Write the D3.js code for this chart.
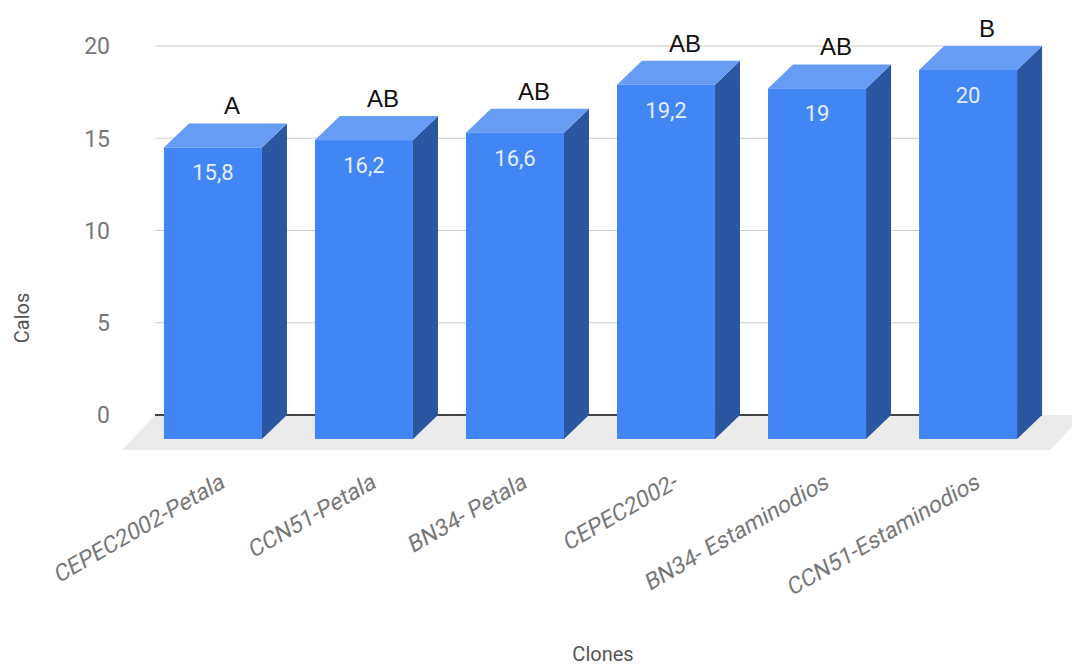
<!DOCTYPE html>
<html>
<head>
<meta charset="utf-8">
<script src="https://cdn.jsdelivr.net/npm/d3@7"></script>
<style>
  html, body { margin: 0; padding: 0; background: #fff; }
  svg { display: block; }
</style>
</head>
<body>
<svg id="chart" width="1072" height="665"></svg>
<script>
const categories = ["CEPEC2002-Petala", "CCN51-Petala", "BN34- Petala", "CEPEC2002-", "BN34- Estaminodios", "CCN51-Estaminodios"];
const values = [15.8, 16.2, 16.6, 19.2, 19, 20];
const valueLabels = ["15,8", "16,2", "16,6", "19,2", "19", "20"];
const groupLetters = ["A", "AB", "AB", "AB", "AB", "B"];
const yTicks = [0, 5, 10, 15, 20];

const svg = d3.select("#chart");

// 3D offsets
const depthX = 25, depthY = 24;     // bar depth (front face offset from back plane)
const floorX = 33, floorY = 35;     // floor depth

const y = d3.scaleLinear().domain([0, 20]).range([415, 46]);
const x = d3.scaleBand().domain(categories).range([137.5, 1043.5]).paddingInner(0.351).paddingOuter(0.175);
const bw = x.bandwidth();

const gridLeft = 155, gridRight = 1042;

// floor
svg.append("polygon")
  .attr("points", [[gridLeft, y(0)], [gridRight + 41, y(0)], [gridRight + 41 - floorX, y(0) + floorY], [gridLeft - floorX, y(0) + floorY]].map(p => p.join(",")).join(" "))
  .attr("fill", "#ebebeb");

// gridlines
svg.append("g").selectAll("line").data(yTicks).join("line")
  .attr("x1", gridLeft).attr("x2", gridRight)
  .attr("y1", d => y(d)).attr("y2", d => y(d))
  .attr("stroke", d => d === 0 ? "#444" : "#cccccc")
  .attr("stroke-width", d => d === 0 ? 2 : 1.2);

// y tick labels
svg.append("g").selectAll("text").data(yTicks).join("text")
  .attr("x", 110).attr("y", d => y(d))
  .attr("dy", "0.36em")
  .attr("text-anchor", "end")
  .attr("font-family", "Roboto, sans-serif")
  .attr("font-size", 23)
  .attr("fill", "#777")
  .text(d => d);

// bars
const bars = svg.append("g").selectAll("g").data(categories).join("g");
bars.each(function(c, i) {
  const g = d3.select(this);
  const x0 = x(c), x1 = x0 + bw;
  const yBackTop = y(values[i]);
  const yFrontTop = yBackTop + depthY;
  const yFrontBot = y(0) + depthY;
  g.append("polygon")
    .attr("points", [[x1, yFrontTop], [x1 + depthX, yBackTop], [x1 + depthX, y(0)], [x1, yFrontBot]].map(p => p.join(",")).join(" "))
    .attr("fill", "#2b56a2");
  g.append("polygon")
    .attr("points", [[x0, yFrontTop], [x1, yFrontTop], [x1 + depthX, yBackTop], [x0 + depthX, yBackTop]].map(p => p.join(",")).join(" "))
    .attr("fill", "#679cf4");
  g.append("rect")
    .attr("x", x0).attr("y", yFrontTop)
    .attr("width", bw).attr("height", yFrontBot - yFrontTop)
    .attr("fill", "#4285f4");
  g.append("text")
    .attr("x", x0 + bw / 2).attr("y", yFrontTop + 33)
    .attr("text-anchor", "middle")
    .attr("font-family", "Roboto, sans-serif")
    .attr("font-size", 22)
    .attr("fill", "#e6eefc")
    .text(valueLabels[i]);
  g.append("text")
    .attr("x", x0 + bw / 2 + 19).attr("y", yBackTop - 9)
    .attr("text-anchor", "middle")
    .attr("font-family", "'Liberation Sans', Arial, sans-serif")
    .attr("font-size", 24)
    .attr("fill", "#111")
    .text(groupLetters[i]);
});

// x labels (slanted)
svg.append("g").selectAll("text").data(categories).join("text")
  .attr("transform", d => `translate(${x(d) + bw / 2 + 13},487) rotate(-30) skewX(-10)`)
  .attr("text-anchor", "end")
  .attr("font-family", "Roboto, sans-serif")
  .attr("font-size", 23)
  .attr("fill", "#777")
  .text(d => d);

// axis titles
svg.append("text")
  .attr("transform", "translate(29,318) rotate(-90)")
  .attr("text-anchor", "middle")
  .attr("font-family", "Roboto, sans-serif")
  .attr("font-size", 20)
  .attr("fill", "#555")
  .text("Calos");

svg.append("text")
  .attr("x", 603).attr("y", 661)
  .attr("text-anchor", "middle")
  .attr("font-family", "Roboto, sans-serif")
  .attr("font-size", 20)
  .attr("fill", "#555")
  .text("Clones");
</script>
</body>
</html>
